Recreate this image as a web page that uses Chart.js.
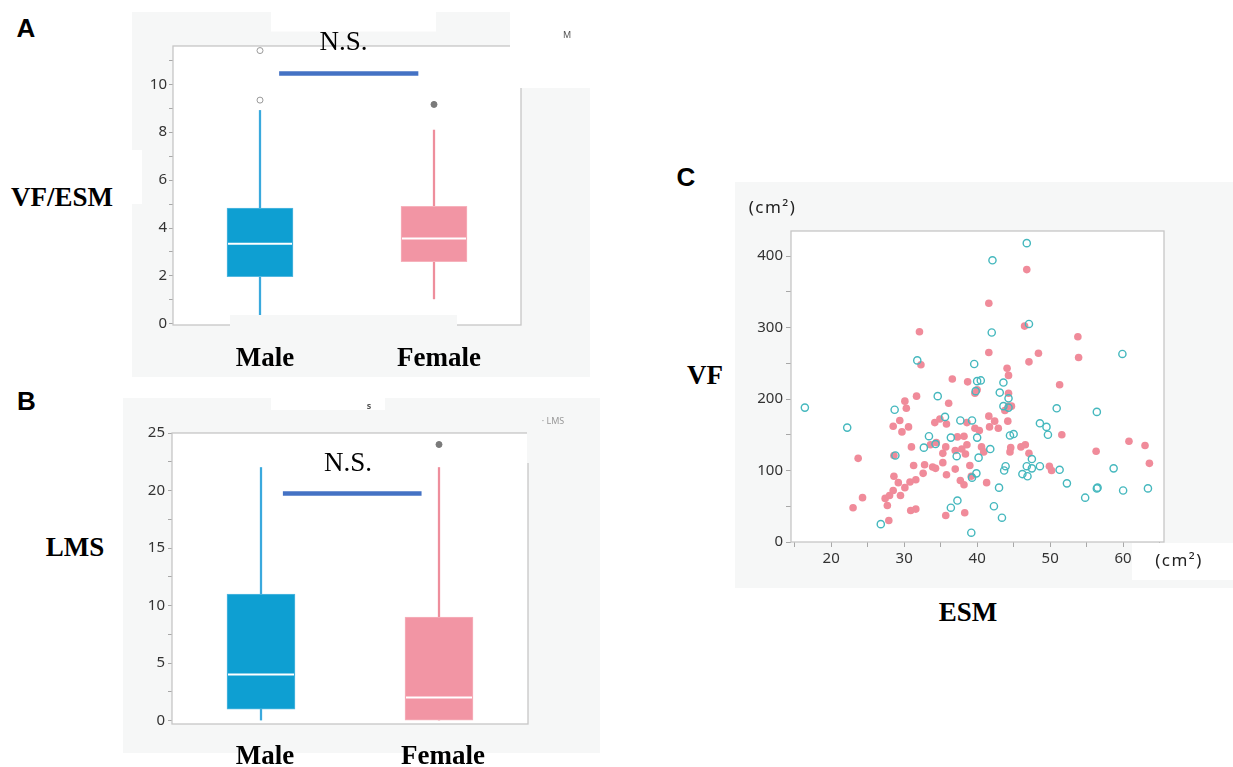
<!DOCTYPE html>
<html>
<head>
<meta charset="utf-8">
<script src="https://cdn.jsdelivr.net/npm/chart.js@4.4.1/dist/chart.umd.min.js"></script>
<style>
  body { margin: 0; background: #fff; }
  #page { position: relative; width: 1233px; height: 767px; overflow: hidden; background: #fff; }
  .bg { position: absolute; background: #f6f7f7; }
  canvas { position: absolute; z-index: 1; }
  .t { position: absolute; transform: translate(-50%, -50%); white-space: nowrap; line-height: 1; z-index: 3; }
  .serif { font-family: "Liberation Serif", "Times New Roman", serif; font-size: 27px; color: #000; }
  .bold { font-weight: bold; }
  .letter { font-family: "Liberation Sans", Arial, sans-serif; font-weight: bold; font-size: 26px; color: #000; }
  .unit { font-family: "Noto Sans", sans-serif; font-size: 17px; color: #222; letter-spacing: 1.5px; }
  .tiny { font-family: "Noto Sans", sans-serif; font-size: 9px; color: #555; }
</style>
</head>
<body>
<div id="page">
  <div class="bg" style="left:132px;top:12px;width:458px;height:365px"></div>
  <div class="bg" style="left:123px;top:398px;width:477px;height:355px"></div>
  <div class="bg" style="left:735px;top:182px;width:498px;height:406px"></div>

  <canvas id="chartA" width="458" height="365" style="left:132px;top:12px"></canvas>
  <canvas id="chartB" width="477" height="369" style="left:123px;top:398px"></canvas>
  <canvas id="chartC" width="500" height="406" style="left:733px;top:182px"></canvas>

  <div class="t letter" style="left:26px;top:27.5px">A</div>
  <div class="t letter" style="left:26.5px;top:401px">B</div>
  <div class="t letter" style="left:686px;top:176.5px">C</div>

  <div class="t serif bold" style="left:62px;top:196.5px">VF/ESM</div>
  <div class="t serif bold" style="left:75px;top:547px">LMS</div>
  <div class="t serif bold" style="left:705px;top:375px">VF</div>
  <div class="t serif bold" style="left:968px;top:612px">ESM</div>

  <div class="t serif" style="left:343.5px;top:40.5px">N.S.</div>
  <div class="t serif" style="left:348px;top:462px">N.S.</div>

  <div class="t unit" style="left:772.5px;top:206px">(cm²)</div>
  <div class="t unit" style="left:1179px;top:559px">(cm²)</div>

  <div class="t tiny" style="left:567px;top:34px">M</div>
  <div class="t tiny bold" style="left:369px;top:405px">s</div>
  <div class="t tiny" style="left:553px;top:420px;color:#999">· LMS</div>
</div>

<script>
const groups = ['Male', 'Female'];

// A: VF/ESM box plot
const vfesmMin = [0.36, 1.04];
const vfesmQ1 = [1.97, 2.59];
const vfesmMedian = [3.34, 3.56];
const vfesmQ3 = [4.83, 4.91];
const vfesmMax = [8.91, 8.09];
const vfesmOutMale = [9.34, 11.41];
const vfesmOutFemale = [9.16];
const vfesmTicks = { min: -0.05, max: 11.6, step: 1, major: 2 };

// B: LMS box plot
const lmsMin = [0, 0];
const lmsQ1 = [1, 0];
const lmsMedian = [4, 2];
const lmsQ3 = [11, 9];
const lmsMax = [22, 22];
const lmsOutMale = [];
const lmsOutFemale = [24];
const lmsTicks = { min: -0.3, max: 25, step: 2.5, major: 5 };

// C: VF vs ESM scatter (cm2)
const maleEsm = [16.4, 22.2, 26.8, 28.7, 28.8, 31.8, 32.7, 33.4, 34.3, 34.6, 35.6, 36.4, 36.4, 37.2, 37.3, 37.7,
  39.3, 39.6, 39.8, 40.0, 40.5, 40.0, 40.2, 39.9, 39.3, 39.2, 41.8, 42.0, 42.1, 42.3, 43.0, 43.4, 43.1, 43.6,
  43.6, 44.3, 44.3, 43.7, 43.9, 44.5, 45.0, 46.2, 46.8, 46.9, 47.5, 47.5, 46.8, 47.1, 48.6, 48.6, 49.5, 49.7,
  50.9, 51.3, 52.3, 54.8, 56.4, 56.4, 56.5, 58.7, 59.9, 60.0, 63.4];
const maleVf = [188, 160, 25, 185, 121, 254, 132, 148, 137, 204, 175, 146, 48, 120, 58, 170,
  170, 249, 211, 225, 226, 146, 118, 96, 90, 13, 130, 293, 394, 50, 76, 34, 209, 223,
  190, 201, 188, 100, 106, 149, 151, 95, 106, 92, 103, 116, 418, 305, 166, 106, 161, 150,
  187, 101, 82, 62, 182, 75, 76, 103, 263, 72, 75];
const femaleEsm = [23.0, 23.7, 24.3, 27.4, 27.7, 27.9, 28.0, 28.5, 28.6, 28.5, 28.6, 29.2, 29.4, 29.5, 29.7, 30.1,
  30.1, 30.3, 30.6, 30.8, 30.9, 31.0, 31.3, 31.6, 31.6, 31.7, 32.1, 32.3, 32.6, 32.8, 33.6, 33.9, 34.3, 34.2,
  34.9, 34.4, 35.3, 35.3, 35.8, 35.7, 35.8, 35.7, 36.1, 36.6, 37.0, 37.0, 37.3, 37.7, 37.9, 38.2, 38.2, 38.3,
  38.4, 38.6, 38.6, 38.7, 39.0, 39.2, 39.7, 39.7, 40.0, 40.3, 40.6, 40.9, 41.3, 41.6, 41.6, 41.6, 41.7, 42.4,
  42.9, 43.8, 44.1, 44.3, 44.3, 44.2, 44.3, 44.7, 44.5, 44.6, 46.0, 46.6, 46.5, 46.8, 47.1, 47.1, 48.4, 49.9,
  50.2, 51.3, 51.6, 53.8, 53.9, 56.3, 60.8, 63.0, 63.6];
const femaleVf = [48, 117, 62, 61, 51, 30, 65, 72, 92, 162, 121, 83, 170, 65, 154, 76,
  197, 187, 161, 84, 44, 133, 107, 46, 87, 204, 294, 248, 96, 108, 136, 105, 103, 167,
  172, 139, 124, 111, 94, 37, 165, 133, 194, 228, 102, 128, 147, 86, 130, 148, 80, 41,
  123, 136, 167, 224, 107, 92, 159, 208, 213, 156, 133, 126, 83, 334, 265, 176, 161, 169,
  159, 184, 243, 233, 208, 169, 190, 190, 126, 132, 133, 136, 302, 381, 252, 124, 264, 106,
  100, 220, 150, 287, 258, 127, 141, 135, 110];
const esmTicks = { min: 14.5, max: 65.6, step: 5, major: 10 };
const vfTicks = { min: 0, max: 435, step: 50, major: 100 };

const BG = '#f6f7f7';
const boxColors = ['#0e9fd2', '#f295a4'];
const boxEdge = ['#55b8e0', '#f6b2bc'];
const whiskerColors = ['#3aa9dd', '#ee8e9c'];

// plot frame, white plot area, cover patches and the N.S. bar
function panelPlugin(cfg) {
  return {
    id: 'panel',
    beforeDraw(chart) {
      const a = chart.chartArea, ctx = chart.ctx;
      ctx.save();
      ctx.fillStyle = '#fff';
      ctx.fillRect(a.left, a.top, a.right - a.left, a.bottom - a.top);
      ctx.restore();
    },
    beforeDatasetsDraw(chart) {
      const a = chart.chartArea, ctx = chart.ctx;
      ctx.save();
      ctx.strokeStyle = '#c6c6c6';
      ctx.lineWidth = 1.3;
      ctx.strokeRect(a.left, a.top, a.right - a.left, a.bottom - a.top);
      ctx.restore();
    },
    afterDatasetsDraw(chart) {
      const ctx = chart.ctx;
      ctx.save();
      (cfg.patches || []).forEach(p => {
        ctx.fillStyle = p.c;
        ctx.fillRect(p.x - cfg.ox, p.y - cfg.oy, p.w, p.h);
      });
      if (cfg.bar) {
        const xs = chart.scales.x, ys = chart.scales.y;
        const x0 = xs.getPixelForValue(0), x1 = xs.getPixelForValue(1);
        const y = ys.getPixelForValue(cfg.bar.y);
        ctx.strokeStyle = '#4472c4';
        ctx.lineWidth = 4.5;
        ctx.beginPath();
        ctx.moveTo(x0 + cfg.bar.from * (x1 - x0), y);
        ctx.lineTo(x0 + cfg.bar.to * (x1 - x0), y);
        ctx.stroke();
      }
      ctx.restore();
    }
  };
}

function valueAxis(t, cfg) {
  return {
    min: t.min, max: t.max,
    grid: { drawOnChartArea: false, drawTicks: true, tickLength: cfg.tickLen, tickColor: '#a8a8a8' },
    border: { display: false },
    ticks: {
      stepSize: t.step, includeBounds: false, autoSkip: false, padding: cfg.tickPad,
      font: { family: 'Noto Sans', size: 15 }, color: '#333',
      callback: v => (Math.abs(v % t.major) < 1e-6 ? v : '')
    },
    afterFit: s => { s.width = cfg.yw; }
  };
}

function boxChart(id, lo, q1, med, q3, hi, outM, outF, t, cfg) {
  return new Chart(document.getElementById(id), {
    type: 'bar',
    data: {
      labels: groups,
      datasets: [
        { type: 'line', data: med, showLine: false, pointStyle: 'line', pointRadius: cfg.boxW / 2 - 1,
          pointBorderColor: '#fff', pointBorderWidth: 2, order: 0 },
        { type: 'line', data: outM.map(v => ({ x: 'Male', y: v })), showLine: false, pointRadius: 3,
          pointBorderWidth: 1, pointBorderColor: '#9a9a9a', pointBackgroundColor: '#fff', order: 1 },
        { type: 'line', data: outF.map(v => ({ x: 'Female', y: v })), showLine: false, pointRadius: 3,
          pointBorderWidth: 1, pointBorderColor: '#7a7a7a', pointBackgroundColor: '#7a7a7a', order: 1 },
        { type: 'bar', data: q1.map((v, i) => [v, q3[i]]), backgroundColor: boxColors, borderColor: boxEdge,
          borderWidth: 1, borderSkipped: false, barThickness: cfg.boxW, grouped: false, order: 2 },
        { type: 'bar', data: lo.map((v, i) => [v, hi[i]]), backgroundColor: whiskerColors,
          borderWidth: 0, barThickness: 1.6, grouped: false, order: 3 }
      ]
    },
    options: {
      responsive: false, animation: false, events: [],
      layout: { padding: { top: cfg.top, right: cfg.right, left: 0, bottom: 0 } },
      plugins: { legend: { display: false }, tooltip: { enabled: false } },
      scales: {
        x: {
          offset: true,
          grid: { display: false, drawTicks: false }, border: { display: false },
          ticks: {
            z: 1,
            font: { family: 'Liberation Serif', size: 27, weight: 'bold' }, color: '#000',
            padding: cfg.labelPad, labelOffset: cfg.labelOffset, maxRotation: 0, autoSkip: false
          },
          afterFit: s => { s.height = cfg.xh; }
        },
        y: valueAxis(t, cfg)
      }
    },
    plugins: [panelPlugin(cfg)]
  });
}

boxChart('chartA', vfesmMin, vfesmQ1, vfesmMedian, vfesmQ3, vfesmMax, vfesmOutMale, vfesmOutFemale, vfesmTicks, {
  top: 18, right: 69, yw: 41, xh: 52, boxW: 66, tickLen: 4, tickPad: 2, labelPad: 18, labelOffset: 5,
  ox: 132, oy: 12,
  bar: { y: 10.45, from: 0.11, to: 0.91 },
  patches: [
    { x: 271, y: 12, w: 165, h: 19.5, c: '#fff' },
    { x: 510, y: 12, w: 82, h: 76, c: '#fff' },
    { x: 230, y: 315, w: 227, h: 62, c: BG },
    { x: 132, y: 150, w: 10, h: 54, c: '#fff' }
  ]
});

boxChart('chartB', lmsMin, lmsQ1, lmsMedian, lmsQ3, lmsMax, lmsOutMale, lmsOutFemale, lmsTicks, {
  top: 18, right: 72, yw: 49, xh: 43, boxW: 68, tickLen: 4, tickPad: 3, labelPad: 17, labelOffset: 4,
  ox: 123, oy: 398,
  bar: { y: 19.74, from: 0.123, to: 0.902 },
  patches: [
    { x: 271, y: 398, w: 114, h: 12, c: '#fff' },
    { x: 255, y: 410, w: 130, h: 17, c: BG },
    { x: 527, y: 415, w: 3, h: 48, c: BG }
  ]
});

new Chart(document.getElementById('chartC'), {
  type: 'scatter',
  data: {
    datasets: [
      { data: maleEsm.map((x, i) => ({ x: x, y: maleVf[i] })), pointRadius: 3.6, borderWidth: 1.4,
        borderColor: '#45b8be', backgroundColor: 'rgba(255,255,255,0)', order: 0 },
      { data: femaleEsm.map((x, i) => ({ x: x, y: femaleVf[i] })), pointRadius: 3.8, borderWidth: 0,
        borderColor: '#f08b9a', backgroundColor: '#f08b9a', order: 1 }
    ]
  },
  options: {
    responsive: false, animation: false, events: [],
    layout: { padding: { top: 49, right: 69, left: 0, bottom: 0 } },
    plugins: { legend: { display: false }, tooltip: { enabled: false } },
    scales: {
      x: {
        min: esmTicks.min, max: esmTicks.max,
        grid: { drawOnChartArea: false, drawTicks: true, tickLength: 5, tickColor: '#a8a8a8' },
        border: { display: false },
        ticks: {
          stepSize: esmTicks.step, includeBounds: false, autoSkip: false, padding: 3, maxRotation: 0,
          font: { family: 'Noto Sans', size: 15 }, color: '#333',
          callback: v => (Math.abs(v % esmTicks.major) < 1e-6 ? v : '')
        },
        afterFit: s => { s.height = 46; }
      },
      y: valueAxis(vfTicks, { tickLen: 5, tickPad: 3, yw: 58 })
    }
  },
  plugins: [panelPlugin({ ox: 733, oy: 182, patches: [{ x: 1132, y: 543, w: 101, h: 37, c: '#fff' }] })]
});
</script>
</body>
</html>
